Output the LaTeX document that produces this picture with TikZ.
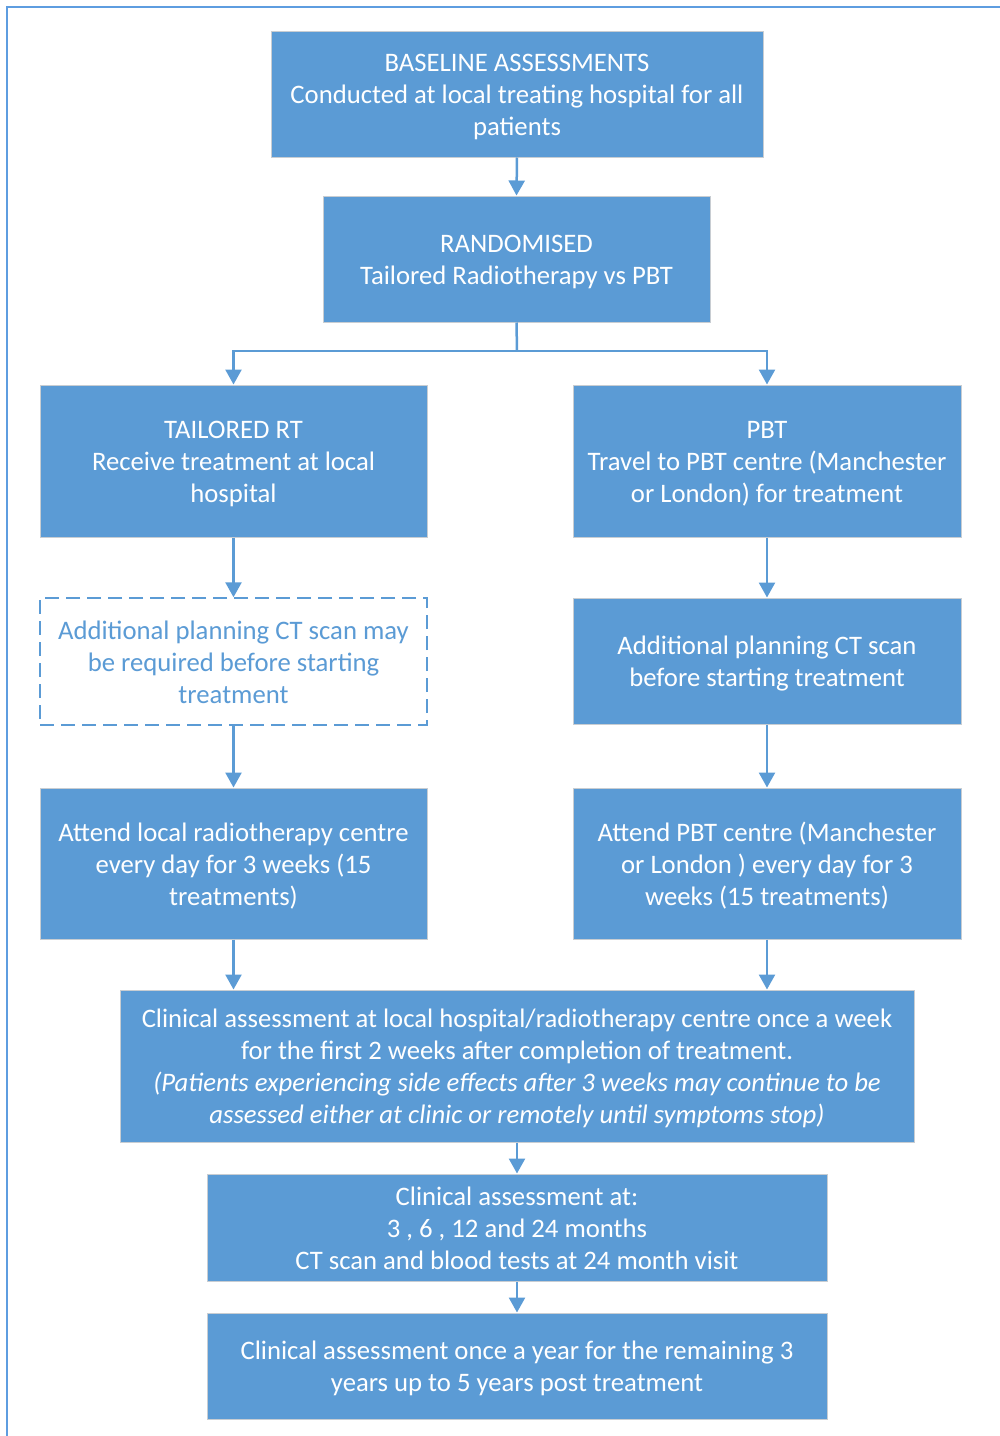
\documentclass[tikz,border=0pt]{standalone}
\usepackage{fontspec}
\setmainfont{Carlito}
\usetikzlibrary{arrows.meta}
\definecolor{obl}{HTML}{5B9BD5}
\definecolor{frm}{HTML}{5E9DE0}
\definecolor{edg}{HTML}{C8CDD2}
\newcommand\txt[1]{\raisebox{-3.5pt}[\height][\depth]{\begin{tabular}{@{}c@{}}#1\end{tabular}}}
\tikzset{
  box/.style={draw=edg, line width=1pt, fill=obl, text=white, inner sep=0pt,
    font=\fontsize{26.7}{32}\selectfont},
  dbox/.style={draw=obl, line width=1.5pt, dash pattern=on 14pt off 7pt, fill=white, text=obl, inner sep=0pt,
    font=\fontsize{26.7}{32}\selectfont},
  conn/.style={draw=obl, line width=2.5pt, -{Triangle[width=16pt,length=15pt]}},
  seg/.style={draw=obl, line width=2.5pt}
}
\begin{document}
\begin{tikzpicture}[x=1pt,y=-1pt]
\useasboundingbox (0,0) rectangle (1000,1436);
\draw[frm, line width=2pt] (7,1436) -- (7,7) -- (1000,7);
% boxes
\node[box, minimum width=492pt, minimum height=126pt] (b1) at (517,94) {\txt{BASELINE ASSESSMENTS\\Conducted at local treating hospital for all\\patients}};
\node[box, minimum width=387pt, minimum height=126pt] (b2) at (516.5,259) {\txt{RANDOMISED\\Tailored Radiotherapy vs PBT}};
\node[box, minimum width=387pt, minimum height=152pt] (tl) at (233.5,461) {\txt{TAILORED RT\\Receive treatment at local\\hospital}};
\node[box, minimum width=388pt, minimum height=152pt] (pb) at (767,461) {\txt{PBT\\Travel to PBT centre (Manchester\\or London) for treatment}};
\node[dbox, minimum width=387pt, minimum height=127pt] (tl2) at (233.5,661.5) {\txt{Additional planning CT scan may\\be required before starting\\treatment}};
\node[box, minimum width=388pt, minimum height=126pt] (pb2) at (767,661) {\txt{Additional planning CT scan\\before starting treatment}};
\node[box, minimum width=387pt, minimum height=151pt] (tl3) at (233.5,863.5) {\txt{Attend local radiotherapy centre\\every day for 3 weeks (15\\treatments)}};
\node[box, minimum width=388pt, minimum height=151pt] (pb3) at (767,863.5) {\txt{Attend PBT centre (Manchester\\or London ) every day for 3\\weeks (15 treatments)}};
\node[box, minimum width=794pt, minimum height=152pt] (c1) at (517,1066) {\txt{Clinical assessment at local hospital/radiotherapy centre once a week\\for the first 2 weeks after completion of treatment.\\\textit{(Patients experiencing side effects after 3 weeks may continue to be}\\\textit{assessed either at clinic or remotely until symptoms stop)}}};
\node[box, minimum width=620pt, minimum height=107pt] (c2) at (517,1227.5) {\txt{Clinical assessment at:\\3 , 6 , 12 and 24 months\\CT scan and blood tests at 24 month visit}};
\node[box, minimum width=620pt, minimum height=106pt] (c3) at (517,1366) {\txt{Clinical assessment once a year for the remaining 3\\years up to 5 years post treatment}};
% connectors
\draw[conn] (b1.south) -- (b2.north);
\coordinate (split) at (517,351);
\draw[seg] (b2.south) -- (split);
\draw[conn] (split) -| (tl.north);
\draw[conn] (split) -| (pb.north);
\draw[conn] (tl.south) -- (tl2.north);
\draw[conn] (pb.south) -- (pb2.north);
\draw[conn] (tl2.south) -- (tl3.north);
\draw[conn] (pb2.south) -- (pb3.north);
\draw[conn] (tl3.south) -- (tl3.south |- c1.north);
\draw[conn] (pb3.south) -- (pb3.south |- c1.north);
\draw[conn] (c1.south) -- (c2.north);
\draw[conn] (c2.south) -- (c3.north);
\end{tikzpicture}
\end{document}
